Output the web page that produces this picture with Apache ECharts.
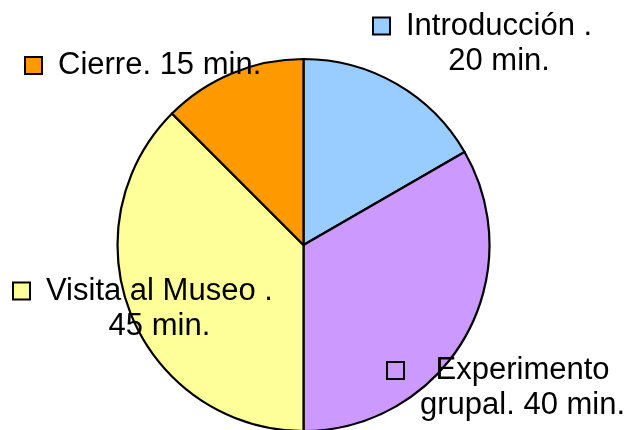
<!DOCTYPE html>
<html>
<head>
<meta charset="utf-8">
<script src="https://cdn.jsdelivr.net/npm/echarts@6/dist/echarts.min.js"></script>
<style>html,body{margin:0;padding:0;background:#fff}#c{width:628px;height:430px}</style>
</head>
<body>
<div id="c"></div>
<script>
// Data
var categories = ['Introducción', 'Experimento grupal', 'Visita al Museo', 'Cierre'];
var minutes = [20, 40, 45, 15];
var labelLines = [
  ['Introducción .', '20 min.'],
  ['Experimento', 'grupal. 40 min.'],
  ['Visita al Museo .', '45 min.'],
  ['Cierre. 15 min.']
];
var colors = ['#99CCFF', '#CC99FF', '#FFFF99', '#FF9900'];
// Label block positions (top-left of marker line)
var labelPos = [[374, 8.5], [388, 353], [14, 273.5], [26, 48]];

var FONT_SIZE = 31, FONT_FAMILY = "'Liberation Sans', Arial, sans-serif";
var LINE_H = 35, MARK = 15, GAP = 17;
var cv = document.createElement('canvas').getContext('2d');
cv.font = FONT_SIZE + 'px ' + FONT_FAMILY;
function tw(s) { return cv.measureText(s).width; }

var data = categories.map(function (name, i) {
  var lines = labelLines[i];
  var widths = lines.map(tw);
  var W = Math.max.apply(null, widths);
  var rich = {
    m: { width: MARK, height: MARK, backgroundColor: colors[i], borderColor: '#000', borderWidth: 2, lineHeight: LINE_H },
    t: { fontSize: FONT_SIZE, fontFamily: FONT_FAMILY, color: '#000', lineHeight: LINE_H }
  };
  var parts = lines.map(function (ln, k) {
    var off = (W - widths[k]) / 2;
    rich['p' + k] = { width: (k === 0 ? GAP : MARK + GAP) + off, height: 1, lineHeight: LINE_H };
    return (k === 0 ? '{m|}' : '') + '{p' + k + '|}{t|' + ln + '}';
  });
  return {
    name: name,
    value: minutes[i],
    itemStyle: { color: colors[i] },
    label: { formatter: parts.join('\n'), rich: rich }
  };
});

var chart = echarts.init(document.getElementById('c'), null, { renderer: 'canvas' });
chart.setOption({
  backgroundColor: '#fff',
  animation: false,
  series: [{
    type: 'pie',
    center: [303.5, 245],
    radius: 186,
    startAngle: 90,
    clockwise: true,
    avoidLabelOverlap: false,
    itemStyle: { borderColor: '#000', borderWidth: 2.2 },
    label: { show: true, position: 'outside', align: 'left' },
    labelLine: { show: false },
    emphasis: { disabled: true },
    labelLayout: function (p) {
      var pos = labelPos[p.dataIndex];
      return { x: pos[0], y: pos[1], align: 'left', verticalAlign: 'top' };
    },
    data: data
  }]
});
</script>
</body>
</html>
